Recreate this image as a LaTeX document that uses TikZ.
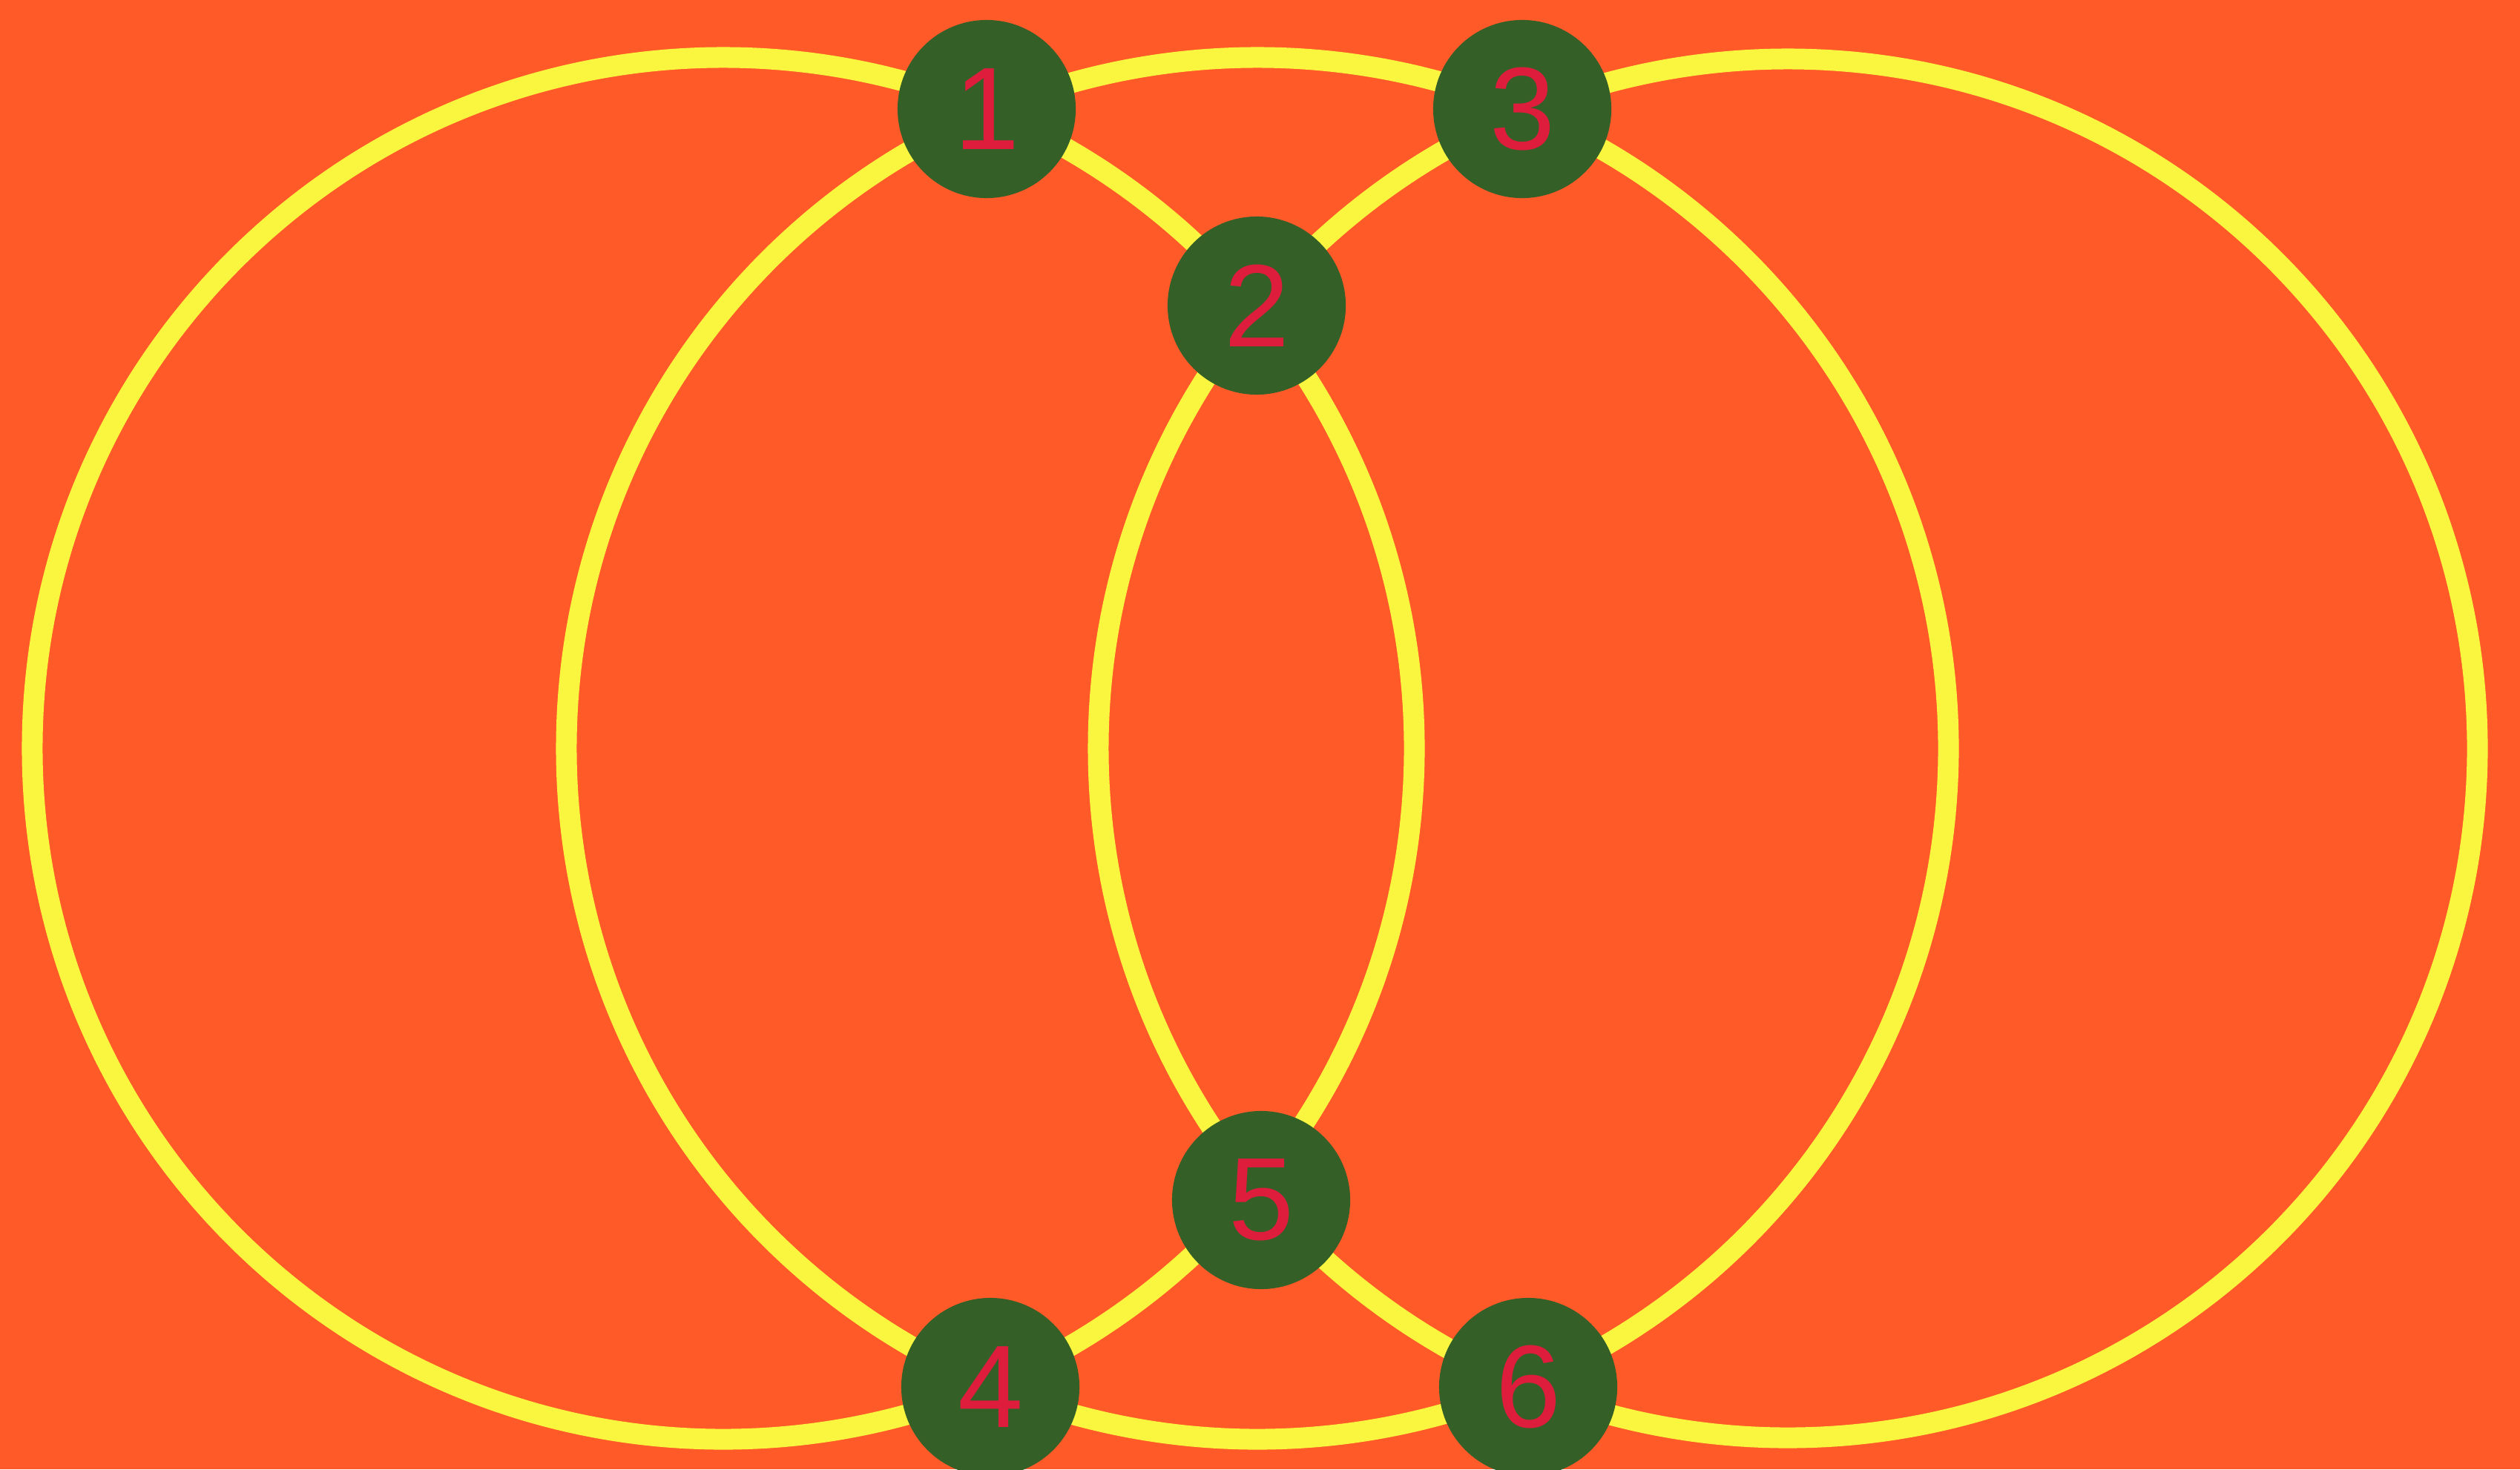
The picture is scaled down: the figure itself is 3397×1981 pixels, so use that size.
\documentclass[tikz,border=0pt]{standalone}
\usepackage{fontspec}
\setmainfont{Liberation Sans}
\definecolor{bgorange}{RGB}{255,90,40}
\definecolor{ringyellow}{RGB}{250,245,62}
\definecolor{dotgreen}{RGB}{52,96,40}
\definecolor{numred}{RGB}{222,28,60}
\begin{document}
\begin{tikzpicture}[x=0.01cm,y=-0.01cm,
  ring/.style={draw=ringyellow, line width=0.28cm},
  dot/.style={circle, fill=dotgreen, minimum size=2.4cm, inner sep=0pt,
    text=numred, font=\fontsize{45}{54}\selectfont}]
\fill[bgorange] (0,0) rectangle (3397,1981);
\useasboundingbox (0,0) rectangle (3397,1981);
\coordinate (cL) at (975,1009);
\coordinate (cM) at (1695,1009);
\coordinate (cR) at (2410,1009);
\draw[ring] (cL) circle[radius=9.31cm];
\draw[ring] (cM) circle[radius=9.31cm];
\draw[ring] (cR) circle[radius=9.29cm];
\node[dot] (n1) at (1330,147) {1};
\node[dot] (n3) at (2052,147) {3};
\node[dot] (n2) at (1694,412) {2};
\node[dot] (n5) at (1700,1618) {5};
\node[dot] (n4) at (1335,1870) {4};
\node[dot] (n6) at (2060,1870) {6};
\end{tikzpicture}
\end{document}
